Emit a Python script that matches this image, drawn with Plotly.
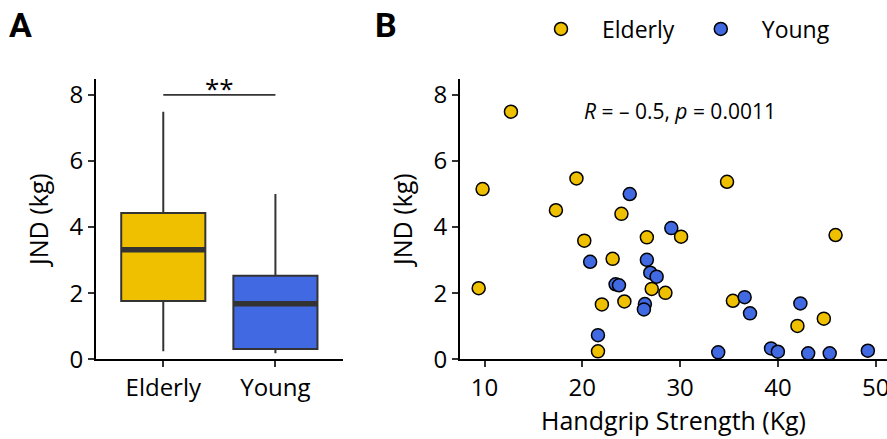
import numpy as np
import plotly.graph_objects as go

# ---- data ----
groups = ["Elderly", "Young"]
colors = {"Elderly": "#EFC000", "Young": "#4169E1"}

elderly_grip = [12.7, 9.8, 19.4, 17.3, 34.8, 24.0, 30.1, 26.6, 23.1, 20.2,
                27.1, 28.5, 22.0, 24.3, 21.6, 35.4, 45.9, 44.7, 42.0, 9.4]
elderly_jnd = [7.49, 5.15, 5.47, 4.51, 5.37, 4.40, 3.71, 3.69, 3.04, 3.59,
               2.13, 2.01, 1.66, 1.75, 0.24, 1.77, 3.76, 1.23, 1.01, 2.15]

young_grip = [24.85, 29.1, 26.6, 20.8, 26.95, 27.6, 23.4, 23.75, 26.4, 26.3,
              21.6, 36.6, 37.15, 33.9, 39.3, 40.0, 42.3, 43.1, 45.3, 49.2]
young_jnd = [5.00, 3.97, 3.01, 2.95, 2.62, 2.50, 2.27, 2.24, 1.67, 1.51,
             0.73, 1.88, 1.39, 0.21, 0.33, 0.23, 1.69, 0.18, 0.18, 0.26]

y_ticks = [0, 2, 4, 6, 8]
x_ticks_b = [10, 20, 30, 40, 50]

grip = {"Elderly": elderly_grip, "Young": young_grip}
jnd = {"Elderly": elderly_jnd, "Young": young_jnd}

W, H = 887, 439
FONT = "Open Sans"
INK = "#333333"

fig = go.Figure()

# ---- panel A: boxplots (Tukey stats, R type-7 quantiles) ----
box_width = 0.75
for i, g in enumerate(groups):
    pos = i + 1
    arr = np.asarray(jnd[g])
    q1, med, q3 = np.percentile(arr, [25, 50, 75])
    iqr = q3 - q1
    lo = arr[arr >= q1 - 1.5 * iqr].min()
    hi = arr[arr <= q3 + 1.5 * iqr].max()
    fig.add_trace(go.Box(
        x=[pos], q1=[q1], median=[med], q3=[q3],
        lowerfence=[lo], upperfence=[hi],
        width=box_width, whiskerwidth=0, boxpoints=False,
        fillcolor=colors[g], line=dict(color=INK, width=2),
        showlegend=False, hoverinfo="skip", xaxis="x", yaxis="y",
    ))
    # heavier median bar
    fig.add_trace(go.Scatter(
        x=[pos - box_width / 2, pos + box_width / 2], y=[med, med],
        mode="lines", line=dict(color=INK, width=5.5),
        showlegend=False, hoverinfo="skip", xaxis="x", yaxis="y",
    ))

# significance bracket
fig.add_shape(type="line", xref="x", yref="y", x0=1, x1=2, y0=8, y1=8,
              line=dict(color=INK, width=1.6))
fig.add_annotation(xref="x", yref="y", x=1.5, y=8, text="**", showarrow=False,
                   yanchor="bottom", yshift=-13,
                   font=dict(family=FONT, size=26, color="black"))

# ---- panel B: scatter ----
for g in groups:
    fig.add_trace(go.Scatter(
        x=grip[g], y=jnd[g], mode="markers", name=g,
        marker=dict(size=13, color=colors[g], line=dict(color="black", width=1.5)),
        cliponaxis=False, xaxis="x2", yaxis="y2",
    ))

fig.add_annotation(xref="paper", yref="paper", x=680 / W, y=1 - 111 / H,
                   text="<i>R</i> = – 0.5, <i>p</i> = 0.0011", showarrow=False,
                   xanchor="center", yanchor="middle",
                   font=dict(family=FONT, size=21, color="black"))

# panel letters
for letter, px in (("A", 7), ("B", 373)):
    fig.add_annotation(xref="paper", yref="paper", x=px / W, y=1 - 25 / H,
                       text=f"<b>{letter}</b>", showarrow=False,
                       xanchor="left", yanchor="middle",
                       font=dict(family="Roboto", size=34, color="black"))

y_dom = [1 - 359.3 / H, 1 - 79 / H]
axis_common = dict(showline=True, linecolor="black", linewidth=2, mirror=False,
                   ticks="outside", ticklen=6, tickwidth=1.5, tickcolor=INK,
                   showgrid=False, zeroline=False, automargin=False,
                   ticklabeloverflow="allow",
                   tickfont=dict(family=FONT, size=24, color="black"))
title_font = dict(family=FONT, size=25, color="black")

fig.update_layout(
    width=W, height=H,
    margin=dict(l=0, r=0, t=0, b=0),
    plot_bgcolor="white", paper_bgcolor="white",
    font=dict(family=FONT, color="black"),
    xaxis=dict(domain=[96 / W, 342.7 / W], range=[0.4, 2.6], tickvals=[1, 2],
               ticktext=groups, anchor="y", **axis_common),
    yaxis=dict(domain=y_dom, range=[0, 8.48], tickvals=y_ticks, anchor="x",
               title=dict(text="JND (kg)", font=title_font, standoff=14),
               **axis_common),
    xaxis2=dict(domain=[460 / W, 1.0], range=[7.49, 51.16], tickvals=x_ticks_b,
                anchor="y2",
                title=dict(text="Handgrip Strength (Kg)", font=title_font, standoff=6),
                **axis_common),
    yaxis2=dict(domain=y_dom, range=[0, 8.48], tickvals=y_ticks, anchor="x2",
                title=dict(text="JND (kg)", font=title_font, standoff=14),
                **axis_common),
    legend=dict(orientation="h", x=520 / W, y=1 - 29 / H, xanchor="left",
                yanchor="middle", itemwidth=72,
                font=dict(family=FONT, size=23, color="black"),
                bgcolor="rgba(0,0,0,0)"),
    showlegend=True,
)

fig.write_html("out.html")
